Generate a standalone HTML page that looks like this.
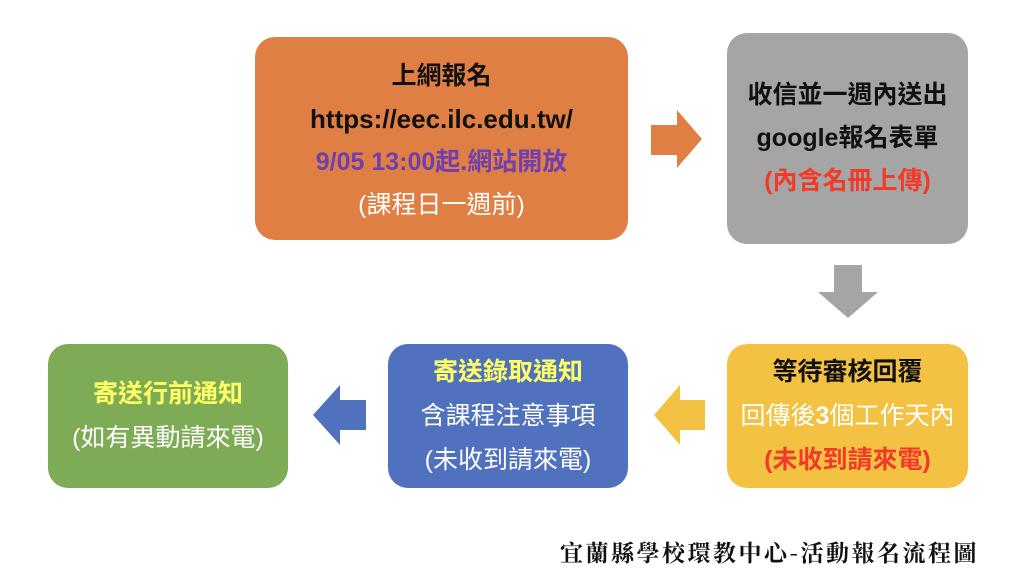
<!DOCTYPE html>
<html><head><meta charset="utf-8"><style>
body{margin:0;width:1024px;height:584px;background:#fff;position:relative;overflow:hidden;font-family:"Liberation Sans","Noto Sans CJK TC",sans-serif}
.b{position:absolute;border-radius:20px;display:flex;flex-direction:column;justify-content:center;align-items:center;text-align:center;font-size:25px;line-height:43px;white-space:nowrap}
.k{font-weight:bold}
svg{position:absolute;left:0;top:0}
.cap{position:absolute;left:560px;top:535px;font-size:23px;font-family:"Noto Serif CJK SC","Liberation Serif",serif;letter-spacing:2.5px;color:#111;font-weight:bold}
</style></head><body>
<div class="b" style="left:255px;top:37px;width:373px;height:203px;background:#e07f43;padding-top:4px;box-sizing:border-box">
<div class="k" style="color:#111">上網報名</div>
<div class="k" style="color:#111;font-size:26px">https://eec.ilc.edu.tw/</div>
<div class="k" style="color:#6d3fb0">9/05 13:00起.網站開放</div>
<div style="color:#fff">(課程日一週前)</div></div>
<div class="b" style="left:727px;top:33px;width:241px;height:211px;background:#a5a5a5">
<div class="k" style="color:#111">收信並一週內送出</div>
<div class="k" style="color:#111">google報名表單</div>
<div class="k" style="color:#f23a2a">(內含名冊上傳)</div></div>
<div class="b" style="left:727px;top:344px;width:241px;height:144px;background:#f4c243;line-height:44px">
<div class="k" style="color:#111">等待審核回覆</div>
<div style="color:#fff">回傳後<b>3</b>個工作天內</div>
<div class="k" style="color:#f23a2a">(未收到請來電)</div></div>
<div class="b" style="left:388px;top:344px;width:240px;height:144px;background:#4f71be;line-height:44px">
<div class="k" style="color:#ffff66">寄送錄取通知</div>
<div style="color:#fff">含課程注意事項</div>
<div style="color:#fff">(未收到請來電)</div></div>
<div class="b" style="left:48px;top:344px;width:240px;height:144px;background:#7eab55;line-height:44px">
<div class="k" style="color:#ffff66">寄送行前通知</div>
<div style="color:#fff">(如有異動請來電)</div></div>
<svg width="1024" height="584">
<polygon points="651,125 677,125 677,110 702,139 677,168 677,155 651,155" fill="#e07f43"/>
<polygon points="834,265 862,265 862,292 878,292 848,318 818,292 834,292" fill="#a5a5a5"/>
<polygon points="705,400 680,400 680,385 654,415 680,445 680,430 705,430" fill="#f4c243"/>
<polygon points="366,400 340,400 340,385 313,415 340,445 340,430 366,430" fill="#4f71be"/>
</svg>
<div class="cap">宜蘭縣學校環教中心-活動報名流程圖</div>
</body></html>
